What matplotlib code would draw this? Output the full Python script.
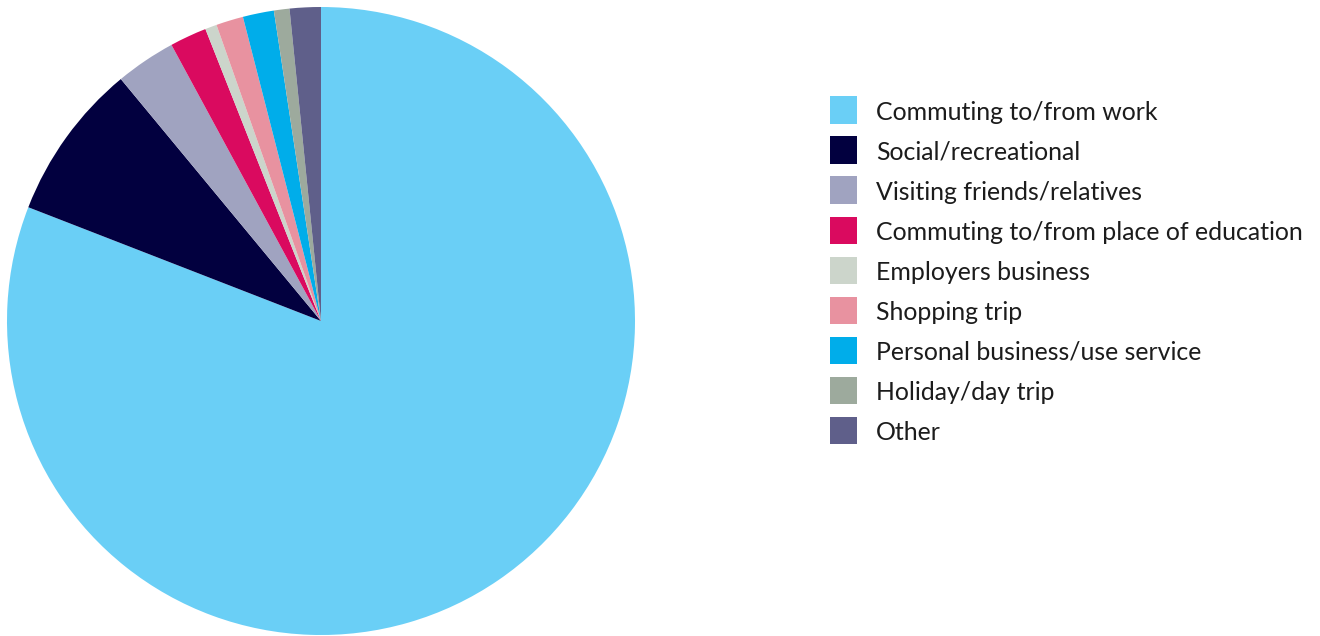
import matplotlib
matplotlib.use("Agg")
import matplotlib.pyplot as plt
from matplotlib.patches import Rectangle

# Journey purpose shares (%)
purposes = [
    "Commuting to/from work",
    "Social/recreational",
    "Visiting friends/relatives",
    "Commuting to/from place of education",
    "Employers business",
    "Shopping trip",
    "Personal business/use service",
    "Holiday/day trip",
    "Other",
]
shares = [80.9, 8.1, 3.1, 1.9, 0.6, 1.4, 1.6, 0.8, 1.6]
colors = ["#6ACFF6", "#02003F", "#A0A3C0", "#DA0A5F", "#CCD5CB",
          "#E892A0", "#00ADEA", "#9DAA9D", "#5F5F8A"]

W, H = 1320, 636
fig = plt.figure(figsize=(W / 100, H / 100), dpi=100)

# Pie axes: centre (321, 321) px, radius 314 px
cx, cy, r = 321, 321, 314
ax = fig.add_axes([(cx - r) / W, (H - cy - r) / H, 2 * r / W, 2 * r / H])
ax.pie(shares, colors=colors, startangle=90, counterclock=False,
       radius=1, wedgeprops=dict(linewidth=0))
ax.set_xlim(-1, 1)
ax.set_ylim(-1, 1)
ax.set_aspect("equal")
ax.axis("off")

# Legend drawn as squares and labels
x_box, box_w, box_h = 830, 27, 27
x_text = 876
y0, dy = 110, 40
for i, (label, c) in enumerate(zip(purposes, colors)):
    yc = y0 + i * dy
    fig.patches.append(Rectangle(((x_box) / W, (H - yc - box_h / 2) / H),
                                 box_w / W, box_h / H, transform=fig.transFigure,
                                 facecolor=c, edgecolor="none"))
    fig.text(x_text / W, (H - yc - 2) / H, label, fontsize=17.9, family="Lato",
             color="#1c1c1c", va="center", ha="left")

fig.savefig("out.png", dpi=100)
